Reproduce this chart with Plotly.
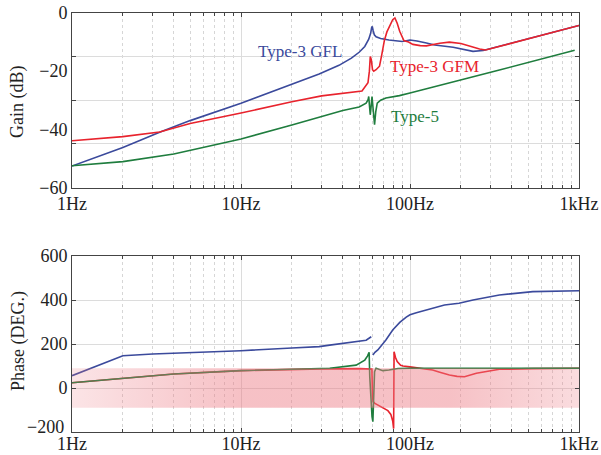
import math
import plotly.graph_objects as go

# ---------------- data ----------------
f_gfl = [1, 2, 3.3, 5, 10, 20, 29, 38, 45, 50, 54, 57, 58.5, 59.3, 59.8, 60.5, 61.5, 63, 67, 75, 90,
         100, 110, 125, 140, 180, 236, 271, 400, 533, 1000]
g_gfl = [-52.6, -46.2, -41, -37, -31, -24.5, -21, -18, -15.5, -13.5, -11.5, -9, -7, -5, -4.6, -6, -7.5,
         -8.2, -8.8, -9.3, -9.8, -9.3, -9.6, -10.3, -11, -11.8, -13.2, -12.9, -10.3, -8.4, -4.3]

f_gfm = [1, 2, 3.3, 5, 10, 20, 30, 45, 52, 56.4, 57.5, 58.2, 59, 60, 61, 63, 66, 68, 70.5, 73, 76.2, 79,
         81.4, 84, 86.9, 92, 98, 104, 115, 125, 150, 171, 200, 230, 258, 280, 400, 533, 1000]
g_gfm = [-43.9, -42.5, -40.9, -38, -34.4, -30.5, -28.5, -27.2, -26.8, -24, -20, -15, -16, -19.5, -20,
         -19.5, -18.3, -14.5, -9.5, -6.5, -4, -2.3, -1.7, -3.5, -6.3, -9.5, -10, -10.8, -11.2, -11.3,
         -10.4, -10, -10.5, -11.5, -12.4, -12.7, -10.3, -8.4, -4.3]

f_t5 = [1, 2, 4, 10, 20, 30, 40, 50, 55, 56.5, 57, 57.6, 58.2, 58.9, 59.6, 60.5, 61.7, 62.7, 64, 67, 72,
        86.6, 100, 338, 943]
g_t5 = [-52.5, -51.1, -48.5, -43.3, -38.5, -35.5, -33.5, -32.3, -31, -29.8, -28.7, -32, -35, -32, -28.7,
        -33, -38.4, -34, -31, -30, -29.2, -28.4, -27.5, -19.6, -12.8]

fp_gfl = [1, 2, 3, 4, 10, 20, 29, 33.5, 40, 48.4, 55, 59, None, 60.3, 62, 64.5, 68, 72, 79, 87, 95, 100,
          109, 130, 160, 195, 236, 338, 533, 1000]
p_gfl = [56, 147, 154.5, 157.7, 169.5, 182, 188, 195, 203, 210, 217, 233, None, 150, 162, 173, 195, 218,
         264, 298, 322, 333, 342, 358, 377, 385, 400, 423, 438, 442]

fp_gfm = [1, 2, 3, 4, 10, 20, 30, 50, 58, 59.5, 60, 60.5, 62, 66, 70, 74, 77, 79, 80, 80.5, 82, 84, 88,
          91, 100, 120, 136, 150, 171, 190, 210, 247, 300, 338, 533, 1000]
p_gfm = [24, 44, 55, 64, 79, 85, 87, 88, 88, 86, -40, -62, -70, -82, -90, -103, -120, -150, -185, 165,
         140, 120, 103, 100, 96, 88, 82, 72, 59, 53, 51, 67, 80, 85, 88, 90]

fp_t5 = [1, 2, 3, 4, 10, 20, 33.5, 48, 54, 56, 57.3, 57.8, 58.2, 59, 59.6, 60.3, 61, 61.7, 63, 65, 69,
         75, 85, 100, 1000]
p_t5 = [24, 44, 55, 64, 79, 86, 90, 104, 127, 145, 162, 51, 6, -40, -130, -153, -40, 74, 90, 85, 79, 82,
        89, 90, 90]

band_f = [1, 1000]
band_lo, band_hi = -90, 90

x_ticks = [1, 10, 100, 1000]
x_ticktext = ["1Hz", "10Hz", "100Hz", "1kHz"]
x_minor = [m * d for d in (1, 10, 100) for m in range(2, 10)]
gain_ticks = [0, -20, -40, -60]
gain_grid = [-15, -30, -45]
phase_ticks = [600, 400, 200, 0, -200]
phase_ticktext = ["600", "400", "200", "0", ""]
phase_bottom_label = "\u2212200"

names = ["Type-3 GFL", "Type-3 GFM", "Type-5"]
colors = ["#3b4a9c", "#e8232d", "#1f7d3e"]
label_pos = [(22.2, -13.3), (140.0, -18.5), (106.7, -35.7)]

# ---------------- figure ----------------
FONT = "Liberation Serif"
fig = go.Figure()

for fx, gy, c in [(f_gfl, g_gfl, colors[0]), (f_gfm, g_gfm, colors[1]), (f_t5, g_t5, colors[2])]:
    fig.add_trace(go.Scatter(x=fx, y=gy, mode="lines", line=dict(color=c, width=1.6),
                             xaxis="x", yaxis="y"))

for fx, py, c in [(fp_gfl, p_gfl, colors[0]), (fp_gfm, p_gfm, colors[1]), (fp_t5, p_t5, colors[2])]:
    fig.add_trace(go.Scatter(x=fx, y=py, mode="lines", line=dict(color=c, width=1.6),
                             connectgaps=False, xaxis="x2", yaxis="y2"))

# translucent band, on an overlaying axis so it is drawn over the curves
fig.add_trace(go.Scatter(
    x=[band_f[0], band_f[1], band_f[1], band_f[0], band_f[0]],
    y=[band_lo, band_lo, band_hi, band_hi, band_lo],
    mode="lines", line=dict(width=0), fill="toself",
    fillgradient=dict(type="horizontal", colorscale=[
        [0.0, "rgba(236,120,130,0.20)"],
        [0.33, "rgba(236,120,130,0.46)"],
        [0.75, "rgba(236,120,130,0.46)"],
        [1.0, "rgba(236,120,130,0.26)"]]),
    hoverinfo="skip", xaxis="x2", yaxis="y4"))

# invisible point activating the gain grid overlay axis
fig.add_trace(go.Scatter(x=[1], y=[-60], mode="markers", marker=dict(opacity=0),
                         hoverinfo="skip", xaxis="x", yaxis="y3"))

tickfont = dict(family=FONT, size=18, color="#222")
frame = "#444"

xcommon = dict(type="log", range=[0, 3], tickvals=x_ticks, ticktext=x_ticktext, tickfont=tickfont,
               ticks="inside", ticklen=4, tickcolor=frame, showline=True, linecolor=frame,
               linewidth=1, mirror="ticks", showgrid=True, gridcolor="#dcdcdc", gridwidth=1,
               zeroline=False, automargin=False,
               minor=dict(tickmode="array", tickvals=x_minor, ticks="inside", ticklen=3,
                          tickcolor=frame, showgrid=True, gridcolor="#d6d6d6", griddash="dot"))

top_dom = [0.5835, 1.0]
bot_dom = [0.0, 0.42]

fig.update_layout(
    width=601, height=455,
    margin=dict(l=72, r=22, t=13, b=23),
    paper_bgcolor="white", plot_bgcolor="white",
    showlegend=False,
    font=dict(family=FONT, color="#222"),
    xaxis=dict(domain=[0, 1], anchor="y", **xcommon),
    xaxis2=dict(domain=[0, 1], anchor="y2", ticklabelstandoff=-5, **xcommon),
    yaxis=dict(domain=top_dom, anchor="x", range=[-60, 0], tickvals=gain_ticks, tickfont=tickfont,
               ticks="", showgrid=False, zeroline=False, showline=True, linecolor=frame,
               linewidth=1, mirror=True, automargin=False),
    yaxis3=dict(overlaying="y", anchor="x", range=[-60, 0], tickvals=gain_grid, showticklabels=False,
                ticks="inside", ticklen=4, tickcolor=frame, showgrid=True, gridcolor="#dcdcdc",
                zeroline=False, showline=False, mirror="ticks", automargin=False),
    yaxis2=dict(domain=bot_dom, anchor="x2", range=[-200, 600], tickvals=phase_ticks,
                ticktext=phase_ticktext,
                tickfont=tickfont, ticks="inside", ticklen=4, tickcolor=frame, showgrid=True,
                gridcolor="#dcdcdc", zeroline=False, showline=True, linecolor=frame, linewidth=1,
                mirror="ticks", automargin=False),
    yaxis4=dict(overlaying="y2", anchor="x2", range=[-200, 600], showticklabels=False, ticks="",
                showgrid=False, zeroline=False, showline=False, automargin=False),
)

# bottom phase label, nudged up slightly as in the reference
fig.add_annotation(text=phase_bottom_label, xref="paper", yref="y2", x=-0.012,
                   y=phase_ticks[-1] + 22, showarrow=False, xanchor="right", yanchor="middle",
                   font=tickfont)

# axis titles
fig.add_annotation(text="Gain (dB)", xref="paper", yref="paper", x=-0.1065, y=0.7876,
                   textangle=-90, showarrow=False, font=dict(family=FONT, size=18, color="#222"),
                   xanchor="center", yanchor="middle")
fig.add_annotation(text="Phase (DEG.)", xref="paper", yref="paper", x=-0.1065, y=0.217,
                   textangle=-90, showarrow=False, font=dict(family=FONT, size=18, color="#222"),
                   xanchor="center", yanchor="middle")

# series labels
for name, c, (lx, ly) in zip(names, colors, label_pos):
    fig.add_annotation(text=name, xref="x", yref="y", x=math.log10(lx), y=ly, showarrow=False,
                       font=dict(family=FONT, size=17, color=c), xanchor="center", yanchor="middle")

fig.write_html("out.html", config={"displayModeBar": False},
               post_script="document.body.style.margin='0';document.body.style.overflow='hidden';")
